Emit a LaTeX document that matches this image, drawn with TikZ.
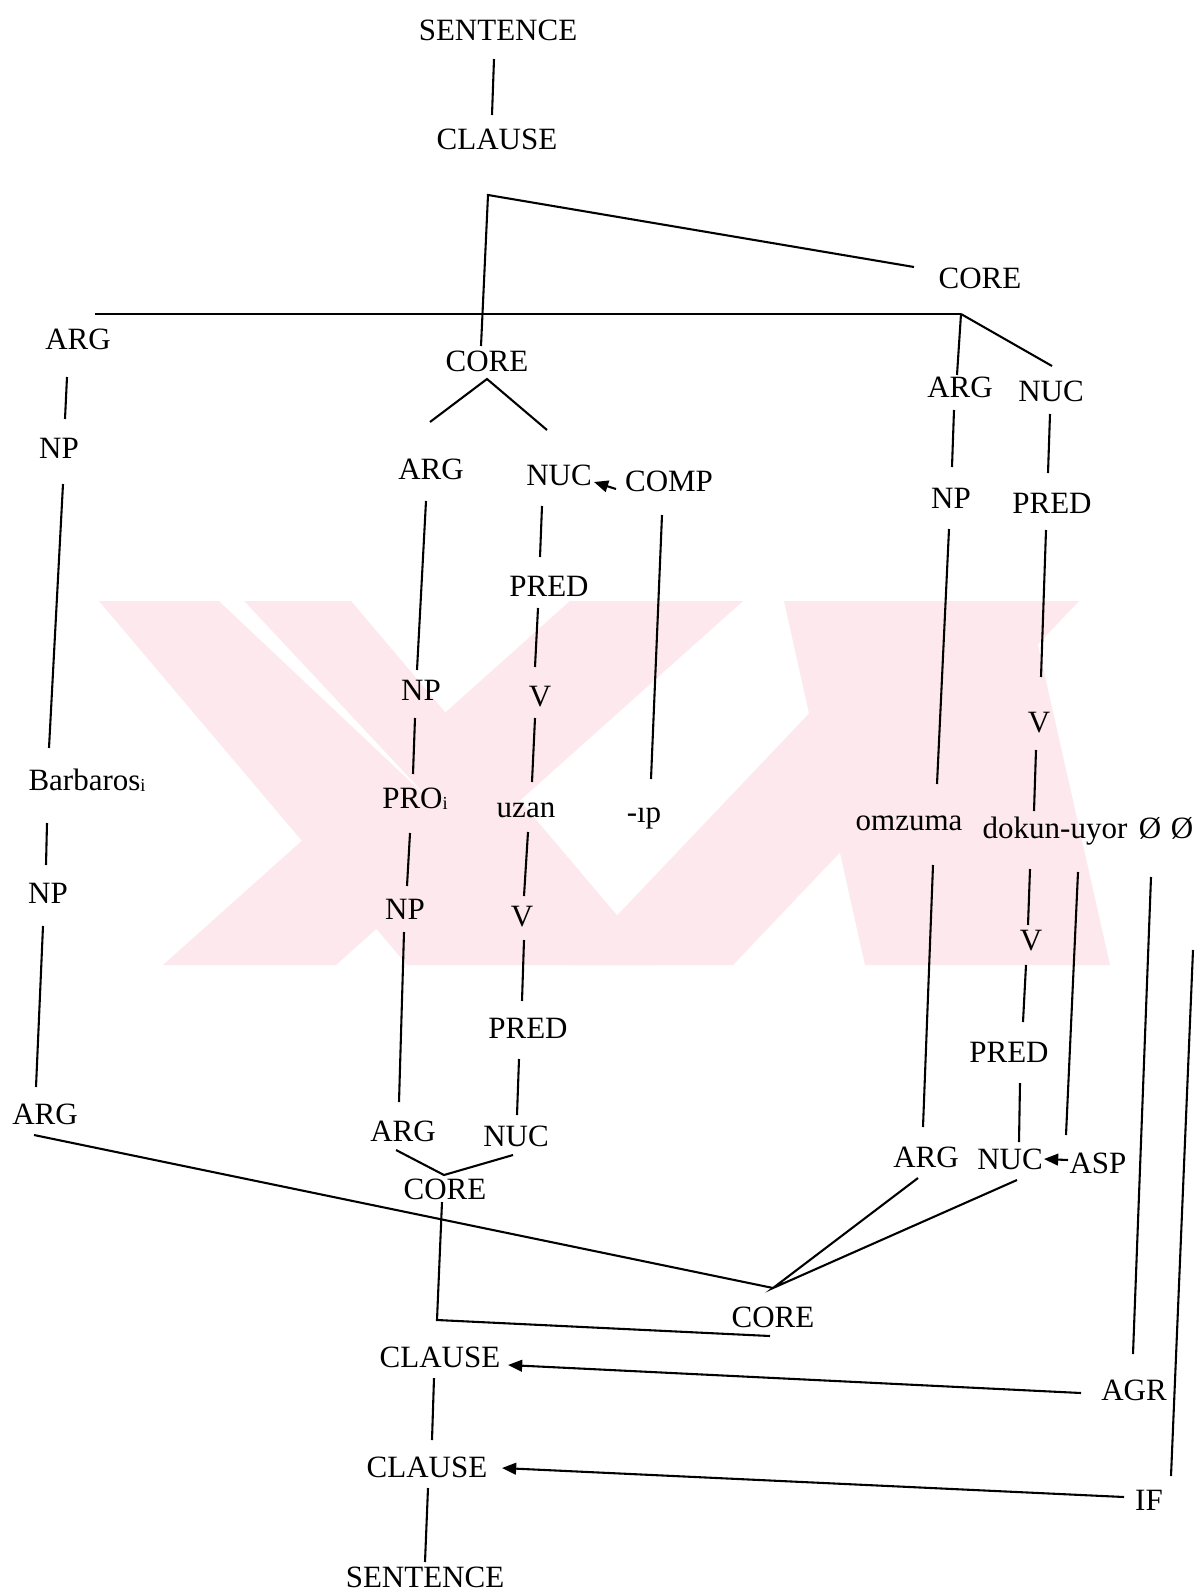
\documentclass[tikz,border=0pt]{standalone}
\usepackage{fontspec}
\setmainfont{Liberation Serif}
\usetikzlibrary{arrows.meta}
\definecolor{wm}{RGB}{252,232,237}
\newcommand\subi{\raisebox{-1pt}{\fontsize{11}{11}\selectfont i}}
\begin{document}
\begin{tikzpicture}[x=0.6pt,y=-0.6pt,
  lbl/.style={anchor=base,inner sep=0pt,font=\fontsize{18.6}{22}\selectfont},
  edge/.style={line width=1.25pt},
  arr/.style={line width=1.25pt,-{Triangle[length=8.5pt,width=7pt]}}]
\fill[white] (0,0) rectangle (1194,1596);
\useasboundingbox (0,0) rectangle (1194,1596);
% watermark
\fill[wm] (99,601) -- (351,601) -- (659,965) -- (407,965) -- cycle;
\fill[wm] (163,965) -- (336,965) -- (743,601) -- (570,601) -- cycle;
\fill[wm] (784,601) -- (1028,601) -- (1110,965) -- (865,965) -- cycle;
\fill[wm] (570,965) -- (733,965) -- (1079,601) -- (916,601) -- cycle;
\fill[white] (219,601) -- (244,601) -- (430,800) -- cycle;
% nodes
\node[lbl] (S1) at (498,41) {SENTENCE};
\node[lbl] (C1) at (497,150) {CLAUSE};
\node[lbl] (CR) at (980,288) {CORE};
\node[lbl] (AL) at (78,349) {ARG};
\node[lbl] (NL1) at (59,458) {NP};
\node[lbl] (Barb) at (87,790) {Barbaros\subi};
\node[lbl] (NL2) at (48,903) {NP};
\node[lbl] (AL2) at (45,1124) {ARG};
\node[lbl] (CM) at (487,371) {CORE};
\node[lbl] (AM) at (431,479) {ARG};
\node[lbl] (NM) at (559,485) {NUC};
\node[lbl] (COMP) at (669,491) {COMP};
\node[lbl] (NPm1) at (421,700) {NP};
\node[lbl] (PROi) at (415,808) {PRO\subi};
\node[lbl] (NPm2) at (405,919) {NP};
\node[lbl] (AM2) at (403,1141) {ARG};
\node[lbl] (PRm1) at (549,596) {PRED};
\node[lbl] (Vm1) at (540,706) {V};
\node[lbl] (uzan) at (526,817) {uzan};
\node[lbl] (Vm2) at (522,926) {V};
\node[lbl] (PRm2) at (528,1038) {PRED};
\node[lbl] (NM2) at (516,1146) {NUC};
\node[lbl] (ip) at (644,822) {-ıp};
\node[lbl] (AR) at (960,397) {ARG};
\node[lbl] (NR) at (1051,401) {NUC};
\node[lbl] (NPr) at (951,508) {NP};
\node[lbl] (PRr) at (1052,513) {PRED};
\node[lbl] (Vr1) at (1039,732) {V};
\node[lbl] (omz) at (909,830) {omzuma};
\node[lbl] (dokun) at (1055,838) {dokun-uyor};
\node[lbl] (O1) at (1150,838) {Ø};
\node[lbl] (O2) at (1182,838) {Ø};
\node[lbl] (Vr2) at (1031,950) {V};
\node[lbl] (PRr2) at (1009,1062) {PRED};
\node[lbl] (AR2) at (926,1167) {ARG};
\node[lbl] (NR2) at (1010,1169) {NUC};
\node[lbl] (ASP) at (1098,1173) {ASP};
\node[lbl] (COREs) at (445,1199) {CORE};
\node[lbl] (COREb) at (773,1327) {CORE};
\node[lbl] (CL2) at (440,1367) {CLAUSE};
\node[lbl] (AGR) at (1134,1400) {AGR};
\node[lbl] (CL3) at (427,1477) {CLAUSE};
\node[lbl] (IF) at (1149,1510) {IF};
\node[lbl] (S2) at (425,1587) {SENTENCE};
\coordinate (corner) at (488,195);
\coordinate (barL) at (95,314);
\coordinate (barR) at (961,314);
\coordinate (bcorner) at (437,1320);
% edges
\draw[edge] ([shift={(-4,18)}]S1.base) -- ([shift={(-5,-35)}]C1.base);
\draw[edge] ([shift={(-66,-21)}]CR.base) -- (corner) -- ([shift={(-6,-25)}]CM.base);
\draw[edge] (barL) -- (barR);
\draw[edge] (barR) -- ([shift={(1,-35)}]NR.base);
\draw[edge] (barR) -- ([shift={(-3,-22)}]AR.base);
\draw[edge] ([shift={(-11,28)}]AL.base) -- ([shift={(6,-39)}]NL1.base);
\draw[edge] ([shift={(4,26)}]NL1.base) -- ([shift={(-38,-42)}]Barb.base);
\draw[edge] ([shift={(-40,33)}]Barb.base) -- ([shift={(-2,-38)}]NL2.base);
\draw[edge] ([shift={(-5,23)}]NL2.base) -- ([shift={(-9,-37)}]AL2.base);
\draw[edge] ([shift={(-1,-57)}]AM.base) -- ([shift={(0,8)}]CM.base) -- ([shift={(-12,-55)}]NM.base);
\draw[edge] ([shift={(-5,22)}]AM.base) -- ([shift={(-4,-30)}]NPm1.base);
\draw[edge] ([shift={(-6,18)}]NPm1.base) -- ([shift={(-2,-34)}]PROi.base);
\draw[edge] ([shift={(-5,25)}]PROi.base) -- ([shift={(2,-33)}]NPm2.base);
\draw[edge] ([shift={(-1,13)}]NPm2.base) -- ([shift={(-4,-39)}]AM2.base);
\draw[edge] ([shift={(-17,21)}]NM.base) -- ([shift={(-9,-39)}]PRm1.base);
\draw[edge] ([shift={(-11,12)}]PRm1.base) -- ([shift={(-5,-39)}]Vm1.base);
\draw[edge] ([shift={(-5,12)}]Vm1.base) -- ([shift={(6,-35)}]uzan.base);
\draw[edge] ([shift={(2,15)}]uzan.base) -- ([shift={(2,-30)}]Vm2.base);
\draw[edge] ([shift={(2,14)}]Vm2.base) -- ([shift={(-6,-37)}]PRm2.base);
\draw[edge] ([shift={(-9,21)}]PRm2.base) -- ([shift={(1,-31)}]NM2.base);
\draw[edge] ([shift={(-7,24)}]COMP.base) -- ([shift={(7,-43)}]ip.base);
\draw[arr] ([shift={(-53,-2)}]COMP.base) -- ([shift={(35,-3)}]NM.base);
\draw[edge] ([shift={(-6,13)}]AR.base) -- ([shift={(1,-41)}]NPr.base);
\draw[edge] ([shift={(-2,21)}]NPr.base) -- ([shift={(28,-46)}]omz.base);
\draw[edge] ([shift={(24,35)}]omz.base) -- ([shift={(-3,-40)}]AR2.base);
\draw[edge] ([shift={(-1,13)}]NR.base) -- ([shift={(-4,-40)}]PRr.base);
\draw[edge] ([shift={(-6,17)}]PRr.base) -- ([shift={(2,-55)}]Vr1.base);
\draw[edge] ([shift={(-3,18)}]Vr1.base) -- ([shift={(-21,-27)}]dokun.base);
\draw[edge] ([shift={(-25,31)}]dokun.base) -- ([shift={(-3,-25)}]Vr2.base);
\draw[edge] ([shift={(-5,15)}]Vr2.base) -- ([shift={(14,-40)}]PRr2.base);
\draw[edge] ([shift={(11,21)}]PRr2.base) -- ([shift={(9,-27)}]NR2.base);
\draw[arr] ([shift={(-30,-13)}]ASP.base) -- ([shift={(34,-10)}]NR2.base);
\draw[edge] ([shift={(23,34)}]dokun.base) -- ([shift={(-32,-38)}]ASP.base);
\draw[edge] ([shift={(1,39)}]O1.base) -- ([shift={(-1,-46)}]AGR.base);
\draw[edge] ([shift={(11,112)}]O2.base) -- ([shift={(22,-34)}]IF.base);
\draw[edge] ([shift={(-11,11)}]AL2.base) -- ([shift={(0,-39)}]COREb.base);
\draw[edge] ([shift={(-8,11)}]AR2.base) -- ([shift={(0,-39)}]COREb.base) -- ([shift={(7,11)}]NR2.base);
\draw[edge] ([shift={(-7,9)}]AM2.base) -- ([shift={(-1,-24)}]COREs.base) -- ([shift={(-3,9)}]NM2.base);
\draw[edge] ([shift={(-3,3)}]COREs.base) -- (bcorner) -- ([shift={(-3,9)}]COREb.base);
\draw[arr] ([shift={(-53,-7)}]AGR.base) -- ([shift={(68,-2)}]CL2.base);
\draw[edge] ([shift={(-6,11)}]CL2.base) -- ([shift={(5,-37)}]CL3.base);
\draw[arr] ([shift={(-25,-13)}]IF.base) -- ([shift={(75,-9)}]CL3.base);
\draw[edge] ([shift={(1,11)}]CL3.base) -- ([shift={(0,-25)}]S2.base);
\end{tikzpicture}
\end{document}
